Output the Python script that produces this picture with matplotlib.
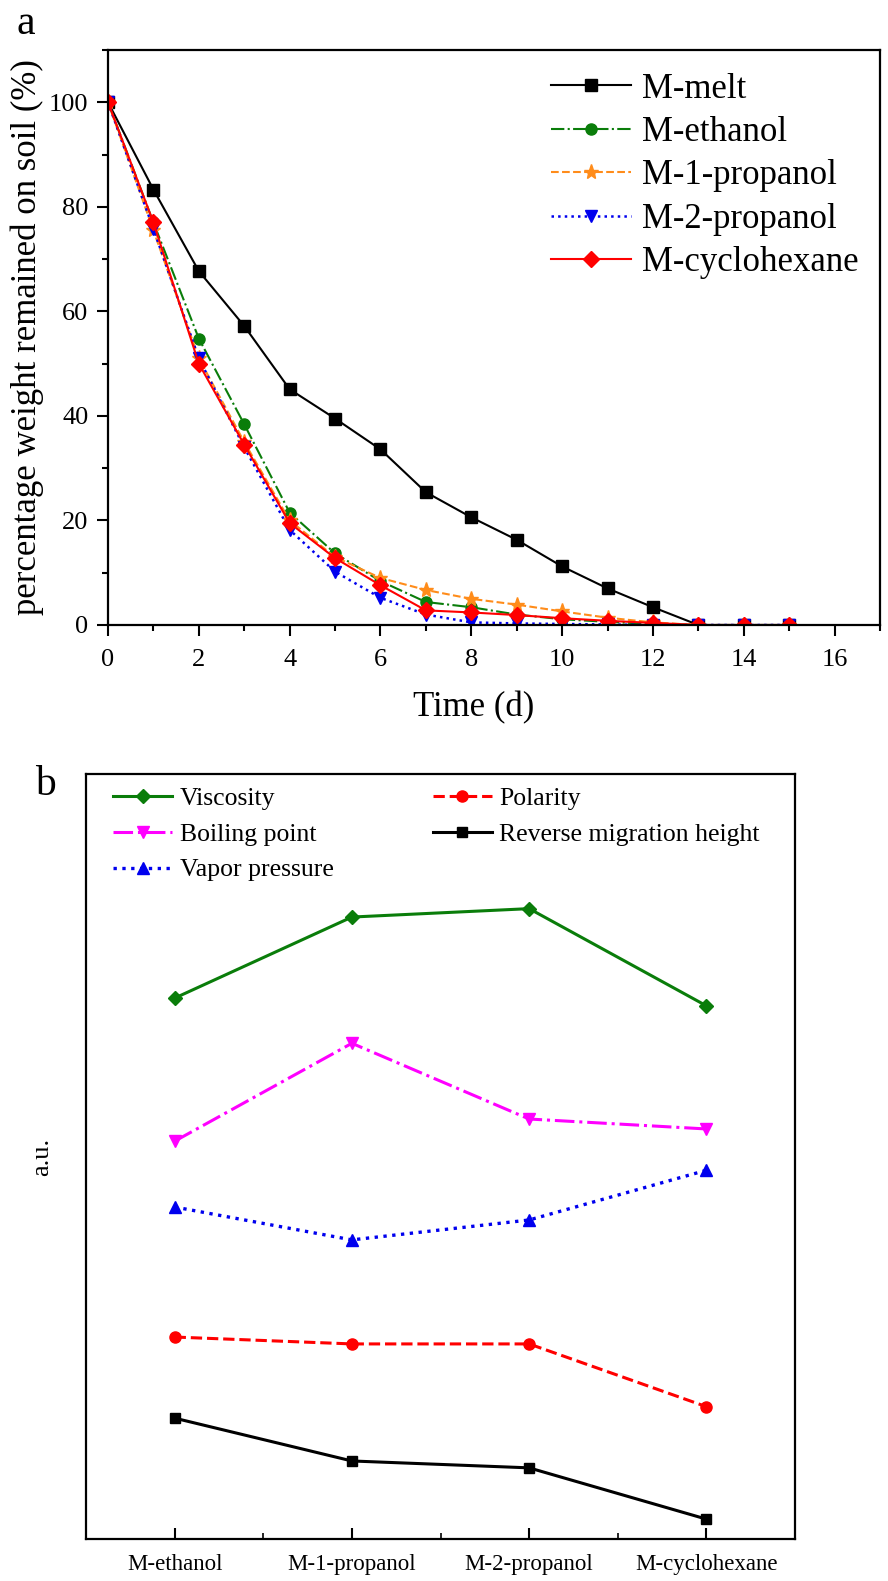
"""Two-panel figure: (a) weight remaining on soil vs time, (b) solvent properties"""
import numpy as np
from matplotlib import pyplot as plt
from matplotlib.ticker import MultipleLocator

plt.rcParams['font.family'] = ['Liberation Serif', 'DejaVu Serif']
plt.rcParams['mathtext.fontset'] = 'stix'

# ---- panel a data ----
days = [0, 1, 2, 3, 4, 5, 6, 7, 8, 9, 10, 11, 12, 13, 14, 15]
m_melt = [100, 83.3, 67.7, 57.2, 45.1, 39.5, 33.6, 25.4, 20.6, 16.3, 11.2, 7.0, 3.4, 0, 0, 0]
m_ethanol = [100, 77.0, 54.8, 38.4, 21.5, 13.7, 8.4, 4.4, 3.4, 2.0, 1.1, 0.6, 0.2, 0, 0, 0]
m_1_propanol = [100, 75.5, 51.0, 35.0, 20.0, 13.0, 9.0, 6.7, 5.0, 3.9, 2.6, 1.4, 0.5, 0, 0, 0]
m_2_propanol = [100, 75.8, 51.0, 34.0, 18.2, 10.2, 5.2, 2.0, 0.5, 0.3, 0.2, 0.1, 0, 0, 0, 0]
m_cyclohexane = [100, 77.0, 50.0, 34.5, 19.5, 12.8, 7.6, 2.8, 2.4, 1.9, 1.3, 0.8, 0.4, 0, 0, 0]

# ---- panel b data (arbitrary units) ----
solvents = ['M-ethanol', 'M-1-propanol', 'M-2-propanol', 'M-cyclohexane']
viscosity = [7.07, 8.13, 8.24, 6.97]
boiling_point = [5.20, 6.48, 5.49, 5.36]
vapor_pressure = [4.34, 3.91, 4.17, 4.82]
polarity = [2.64, 2.55, 2.55, 1.73]
reverse_migration = [1.58, 1.02, 0.93, 0.26]


def plot_a(ax):
    ax.plot(days, m_melt, '-', color='black', marker='s', ms=8, lw=1.5, label='M-melt')
    ax.plot(days, m_ethanol, '-.', color='#0a7d0a', marker='o', ms=8, lw=1.5, label='M-ethanol')
    ax.plot(days, m_1_propanol, '--', color='#ff8c1a', marker='*', ms=11, lw=1.5, label='M-1-propanol')
    ax.plot(days, m_2_propanol, ':', color='#0000ee', marker='v', ms=9, lw=1.8, label='M-2-propanol')
    ax.plot(days, m_cyclohexane, '-', color='#ff0000', marker='D', ms=8, lw=1.5, label='M-cyclohexane')

    ax.set_xlim(0, 17)
    ax.set_ylim(0, 110)
    ax.xaxis.set_major_locator(MultipleLocator(2))
    ax.xaxis.set_minor_locator(MultipleLocator(1))
    ax.yaxis.set_minor_locator(MultipleLocator(10))
    ax.set_yticks(np.arange(0, 101, 20))
    ax.tick_params(which='major', direction='out', length=8, width=1.5, labelsize=19, pad=6)
    ax.tick_params(axis='x', which='major', pad=9)
    ax.tick_params(which='minor', direction='out', length=4, width=1.5)
    ax.tick_params(top=False, right=False)
    for s in ax.spines.values():
        s.set_linewidth(1.6)
    ax.set_xlabel('Time (d)', fontsize=25)
    ax.xaxis.set_label_coords((474 - 108) / 772, -0.115)
    ax.set_ylabel('percentage weight remained on soil (%)', fontsize=25, labelpad=4)
    ax.legend(loc='upper right', fontsize=25, frameon=False, handlelength=2.3,
              handletextpad=0.3, labelspacing=0.3, borderaxespad=0.0,
              bbox_to_anchor=(0.99, 0.985))


def plot_b(ax):
    x = np.arange(len(solvents))
    ax.plot(x, viscosity, '-', color='#0a7d0a', marker='D', ms=7, lw=2.2, label='Viscosity')
    ax.plot(x, boiling_point, '-.', color='#ff00ff', marker='v', ms=8, lw=2.2, label='Boiling point')
    ax.plot(x, vapor_pressure, ':', color='#0000ee', marker='^', ms=8, lw=2.4, label='Vapor pressure')
    ax.plot(x, polarity, '--', color='#ff0000', marker='o', ms=8, lw=2.2, label='Polarity')
    ax.plot(x, reverse_migration, '-', color='black', marker='s', ms=7, lw=2.2,
            label='Reverse migration height')

    ax.set_xlim(-0.5, 3.5)
    ax.set_ylim(0, 10)
    ax.set_xticks(x)
    ax.set_xticklabels(solvents)
    ax.xaxis.set_minor_locator(MultipleLocator(0.5))
    ax.set_yticks([])
    ax.tick_params(axis='x', which='major', direction='in', length=8, width=1.5,
                   labelsize=16.5, pad=11)
    ax.tick_params(axis='x', which='minor', direction='in', length=4.5, width=1.2)
    for s in ax.spines.values():
        s.set_linewidth(1.6)
    ax.set_ylabel('a.u.', fontsize=19, labelpad=24)
    ax.legend(loc='upper left', ncol=2, fontsize=18.5, frameon=False, handlelength=2.3,
              handletextpad=0.3, labelspacing=0.5, columnspacing=3.85,
              borderaxespad=0.1, bbox_to_anchor=(0.02, 1.0))


def plot():
    fig = plt.figure(figsize=(8.88, 15.81), dpi=100)
    ax_a = fig.add_axes([108 / 888, 1 - 625 / 1581, (880 - 108) / 888, (625 - 50) / 1581])
    ax_b = fig.add_axes([86 / 888, 1 - 1539 / 1581, (795 - 86) / 888, (1539 - 774) / 1581])
    plot_a(ax_a)
    plot_b(ax_b)
    fig.text(17 / 888, 1 - 34 / 1581, 'a', fontsize=30, ha='left', va='baseline')
    fig.text(35 / 888, 1 - 795 / 1581, 'b', fontsize=30, ha='left', va='baseline')
    fig.savefig('out.png', dpi=100)


if __name__ == '__main__':
    plot()
